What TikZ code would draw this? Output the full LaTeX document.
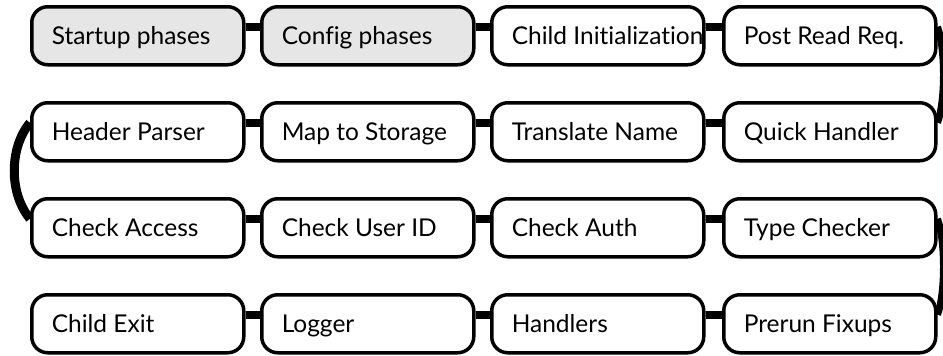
\documentclass[tikz,border=0pt]{standalone}
\usepackage{fontspec}
\setmainfont[Ligatures={NoCommon}]{Lato}
\usetikzlibrary{backgrounds}
\definecolor{phasegray}{HTML}{E6E6E6}
\tikzset{
  phase/.style={draw=black, line width=3.5pt, rounded corners=16pt, fill=white,
    minimum width=212pt, minimum height=58pt, inner xsep=20pt, inner ysep=0pt,
    text height=19pt, text depth=1pt, anchor=north west, font=\fontsize{24.5}{28}\selectfont},
  greyphase/.style={phase, fill=phasegray},
  link/.style={line width=8pt},
  loop/.style={line width=8pt},
}
\newcommand{\ptxt}[1]{\makebox[172pt][l]{#1}}
\begin{document}
\begin{tikzpicture}[x=1pt, y=-1pt]
\useasboundingbox (0,0) rectangle (943,356);
% row 1
\node[greyphase] (b1) at (30,5) {\ptxt{Startup phases}};
\node[greyphase] (b2) at (260,5) {\ptxt{Config phases}};
\node[phase] (b3) at (490,5) {\ptxt{Child Initialization}};
\node[phase] (b4) at (722,5) {\ptxt{Post Read Req.}};
% row 2
\node[phase] (c1) at (30,101) {\ptxt{Header Parser}};
\node[phase] (c2) at (260,101) {\ptxt{Map to Storage}};
\node[phase] (c3) at (490,101) {\ptxt{Translate Name}};
\node[phase] (c4) at (722,101) {\ptxt{Quick Handler}};
% row 3
\node[phase] (d1) at (30,197) {\ptxt{Check Access}};
\node[phase] (d2) at (260,197) {\ptxt{Check User ID}};
\node[phase] (d3) at (490,197) {\ptxt{Check Auth}};
\node[phase] (d4) at (722,197) {\ptxt{Type Checker}};
% row 4
\node[phase] (e1) at (30,293) {\ptxt{Child Exit}};
\node[phase] (e2) at (260,293) {\ptxt{Logger}};
\node[phase] (e3) at (490,293) {\ptxt{Handlers}};
\node[phase] (e4) at (722,293) {\ptxt{Prerun Fixups}};
\begin{scope}[on background layer]
  \foreach \r in {b,c,d,e}{
    \draw[link] ([yshift=9pt]\r1.east) -- ([yshift=9pt]\r2.west);
    \draw[link] ([yshift=9pt]\r2.east) -- ([yshift=9pt]\r3.west);
    \draw[link] ([yshift=9pt]\r3.east) -- ([yshift=9pt]\r4.west);
  }
  \draw[loop, line width=7pt] ([yshift=9pt]b4.east) .. controls +(8,22) and +(8,-22) .. ([yshift=9pt]c4.east);
  \draw[loop, line width=9pt] ([yshift=9pt]c1.west) .. controls +(-21,25) and +(-21,-25) .. ([yshift=9pt]d1.west);
  \draw[loop, line width=7pt] ([yshift=9pt]d4.east) .. controls +(8,22) and +(8,-22) .. ([yshift=9pt]e4.east);
\end{scope}
\end{tikzpicture}
\end{document}
